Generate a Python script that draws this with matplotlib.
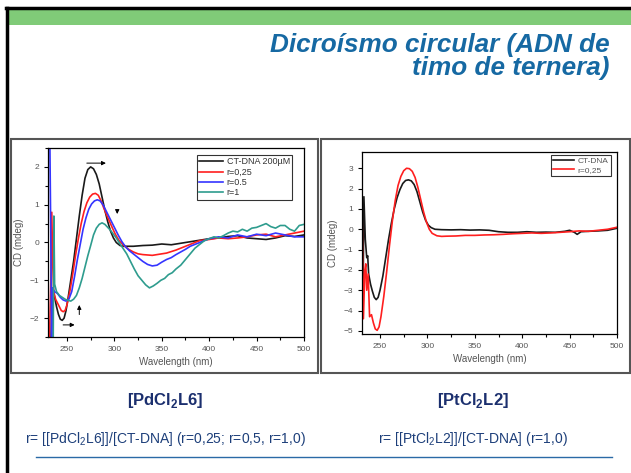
import matplotlib
matplotlib.use('Agg')
import matplotlib.pyplot as plt
from matplotlib.lines import Line2D
from matplotlib.patches import Rectangle

plt.rcParams['font.family'] = ['Liberation Sans', 'DejaVu Sans']
plt.rcParams['mathtext.fontset'] = 'custom'
plt.rcParams['mathtext.rm'] = 'Liberation Sans'
plt.rcParams['mathtext.bf'] = 'Liberation Sans:bold'

W, H = 631, 473

# ---- [PdCl2L6] panel data ----
pd_dna_wl = [233, 235, 237, 239, 241, 243, 245, 247, 249, 251, 254, 257, 260, 263, 266, 269, 272, 275,
             278, 281, 284, 287, 290, 293, 296, 299, 302, 306, 310, 320, 330, 340, 350, 360, 370, 380,
             390, 400, 410, 420, 430, 440, 450, 460, 470, 480, 490, 500]
pd_dna_cd = [-2.6, -1.2, -1.45, -1.7, -1.9, -2.03, -2.06, -2.0, -1.8, -1.5, -1.0, -0.5, 0.1, 0.7, 1.25, 1.7,
             1.93, 2.0, 1.95, 1.8, 1.55, 1.2, 0.85, 0.55, 0.3, 0.12, 0.0, -0.08, -0.1, -0.1, -0.08, -0.07,
             -0.04, -0.06, -0.02, 0.02, 0.06, 0.1, 0.12, 0.16, 0.18, 0.12, 0.1, 0.08, 0.12, 0.18, 0.16, 0.2]

pd_r025_wl = [231.5, 233, 234, 235, 236, 238, 240, 242, 244, 246, 248, 250, 253, 256, 259, 262, 265, 268,
              271, 274, 277, 280, 283, 286, 289, 292, 295, 298, 301, 305, 310, 315, 320, 325, 330, 335,
              340, 345, 350, 355, 360, 365, 370, 375, 380, 385, 390, 400, 410, 420, 430, 440, 450, 460,
              470, 480, 490, 500]
pd_r025_cd = [-2.6, -1.0, 0.8, -0.6, -1.3, -1.5, -1.6, -1.7, -1.8, -1.83, -1.8, -1.65, -1.3, -0.85, -0.35,
              0.1, 0.5, 0.82, 1.05, 1.2, 1.28, 1.3, 1.25, 1.1, 0.9, 0.72, 0.55, 0.38, 0.22, 0.05, -0.08,
              -0.18, -0.25, -0.3, -0.32, -0.33, -0.34, -0.32, -0.3, -0.28, -0.24, -0.2, -0.15, -0.1, -0.05,
              0.0, 0.05, 0.08, 0.12, 0.1, 0.12, 0.15, 0.2, 0.22, 0.15, 0.2, 0.25, 0.3]

pd_r05_wl = [232, 233, 233.8, 234.5, 237, 240, 243, 246, 249, 252, 255, 258, 261, 264, 267, 270, 273, 276,
             279, 282, 285, 288, 291, 294, 297, 300, 304, 308, 312, 316, 320, 325, 330, 335, 340, 345,
             350, 355, 360, 365, 370, 375, 380, 385, 390, 400, 410, 420, 430, 440, 450, 460, 470, 480,
             490, 500]
pd_r05_cd = [2.6, 0.0, -2.6, -1.2, -1.3, -1.35, -1.45, -1.52, -1.55, -1.5, -1.3, -0.9, -0.45, -0.05, 0.35,
             0.65, 0.88, 1.02, 1.1, 1.13, 1.1, 1.0, 0.85, 0.7, 0.55, 0.4, 0.2, 0.02, -0.12, -0.22, -0.3,
             -0.4, -0.5, -0.58, -0.62, -0.6, -0.52, -0.45, -0.4, -0.32, -0.25, -0.18, -0.1, -0.05, 0.0,
             0.1, 0.15, 0.12, 0.2, 0.15, 0.22, 0.18, 0.25, 0.2, 0.15, 0.15]

pd_r1_wl = [235.5, 236.2, 237, 239, 242, 245, 248, 251, 254, 257, 260, 263, 266, 269, 272, 275, 278, 281,
            284, 287, 290, 293, 296, 299, 302, 305, 309, 313, 317, 321, 325, 329, 333, 337, 341, 345,
            349, 353, 357, 361, 365, 370, 375, 380, 385, 390, 395, 400, 405, 410, 415, 420, 425, 430,
            435, 440, 445, 450, 455, 460, 465, 470, 475, 480, 485, 490, 495, 500]
pd_r1_cd = [-2.6, 0.7, -1.1, -1.3, -1.4, -1.45, -1.5, -1.53, -1.55, -1.5, -1.4, -1.2, -0.95, -0.65, -0.35,
            -0.08, 0.2, 0.38, 0.48, 0.52, 0.48, 0.4, 0.32, 0.22, 0.12, 0.0, -0.15, -0.3, -0.5, -0.7, -0.88,
            -1.0, -1.12, -1.2, -1.15, -1.08, -1.0, -0.95, -0.85, -0.8, -0.7, -0.6, -0.45, -0.3, -0.15,
            -0.05, 0.05, 0.1, 0.15, 0.12, 0.18, 0.25, 0.3, 0.28, 0.35, 0.3, 0.38, 0.4, 0.45, 0.5, 0.42,
            0.38, 0.45, 0.45, 0.35, 0.3, 0.45, 0.48]

# ---- [PtCl2L2] panel data ----
pt_dna_wl = [232, 233, 234.5, 236, 237, 238, 240, 242, 244, 246, 248, 250, 253, 256, 259, 262, 265, 268,
             271, 274, 277, 280, 283, 286, 289, 292, 295, 298, 301, 304, 308, 315, 325, 335, 345, 355,
             365, 375, 385, 395, 405, 415, 425, 435, 445, 450, 455, 458, 462, 470, 480, 490, 500]
pt_dna_cd = [-4.0, 1.6, -0.5, -1.4, -1.3, -2.2, -2.7, -3.05, -3.35, -3.46, -3.35, -3.0, -2.3, -1.4, -0.5,
             0.3, 1.0, 1.55, 1.95, 2.25, 2.4, 2.43, 2.38, 2.2, 1.85, 1.35, 0.85, 0.45, 0.2, 0.08, 0.0,
             -0.02, -0.03, -0.02, -0.04, -0.03, -0.05, -0.12, -0.15, -0.15, -0.12, -0.15, -0.14, -0.15,
             -0.1, -0.05, -0.15, -0.25, -0.12, -0.1, -0.08, -0.05, 0.05]

pt_r025_wl = [230.5, 231.5, 232.5, 234, 235, 236, 237.5, 239, 241, 243, 245, 247, 249, 251, 254, 257, 260,
              263, 266, 269, 272, 275, 278, 281, 284, 287, 290, 293, 296, 299, 302, 305, 310, 315, 320,
              330, 340, 350, 360, 370, 380, 390, 400, 410, 420, 430, 440, 450, 460, 470, 480, 490, 500]
pt_r025_cd = [3.8, -1.0, -4.4, -2.0, -1.7, -3.0, -2.2, -4.3, -4.2, -4.6, -4.9, -4.97, -4.8, -4.3, -3.3,
              -2.1, -0.8, 0.4, 1.4, 2.15, 2.6, 2.88, 3.0, 2.98, 2.85, 2.55, 2.05, 1.45, 0.85, 0.35, 0.0,
              -0.2, -0.32, -0.35, -0.34, -0.33, -0.3, -0.3, -0.28, -0.27, -0.25, -0.22, -0.2, -0.18, -0.2,
              -0.18, -0.15, -0.12, -0.08, -0.1, -0.05, 0.0, 0.1]

pd_labels = ['CT-DNA 200\u00b5M', 'r=0,25', 'r=0.5', 'r=1']
pt_labels = ['CT-DNA', 'r=0,25']
c_black, c_red, c_blue, c_teal = '#1a1a1a', '#ff1f1f', '#3535ff', '#2e9c8e'


def px_box(x0, y0, x1, y1):
    return [x0 / W, 1 - y1 / H, (x1 - x0) / W, (y1 - y0) / H]


fig = plt.figure(figsize=(W / 100, H / 100), dpi=100)

# slide decoration
fig.add_artist(Rectangle((8 / W, 1 - 25 / H), 1, 15 / H, transform=fig.transFigure,
                         facecolor='#80cb78', edgecolor='none'))
fig.add_artist(Line2D([7 / W, 7 / W], [0, 1 - 8 / H], transform=fig.transFigure, color='black', lw=2.5))
fig.add_artist(Line2D([6 / W, 1], [1 - 8 / H, 1 - 8 / H], transform=fig.transFigure, color='black', lw=2.5))

title_font = dict(fontsize=18.8, fontweight='bold', fontstyle='italic', color='#1669a3', ha='right',
                  va='baseline', family='Liberation Sans')
fig.text(610 / W, 1 - 52 / H, 'Dicro\u00edsmo circular (ADN de', **title_font)
fig.text(610 / W, 1 - 75 / H, 'timo de ternera)', **title_font)

# panel frames
for x0, x1 in [(11, 318), (321, 630)]:
    fig.add_artist(Rectangle((x0 / W, 1 - 373 / H), (x1 - x0) / W, 234 / H, transform=fig.transFigure,
                             facecolor='none', edgecolor='#555555', lw=1.5))


def style_axes(ax):
    ax.tick_params(labelsize=6, labelcolor='#555555', length=3, width=0.8, direction='out')
    ax.tick_params(which='minor', length=2, width=0.8)
    for s in ax.spines.values():
        s.set_linewidth(0.9)
    ax.set_xlabel('Wavelength (nm)', fontsize=7, color='#555555', labelpad=3)
    ax.set_ylabel('CD (mdeg)', fontsize=7, color='#555555', labelpad=4)


ax1 = fig.add_axes(px_box(48, 148, 304, 337))
ax1.plot(pd_dna_wl, pd_dna_cd, color=c_black, lw=1.2, label=pd_labels[0])
ax1.plot(pd_r025_wl, pd_r025_cd, color=c_red, lw=1.2, label=pd_labels[1])
ax1.plot(pd_r05_wl, pd_r05_cd, color=c_blue, lw=1.2, label=pd_labels[2])
ax1.plot(pd_r1_wl, pd_r1_cd, color=c_teal, lw=1.2, label=pd_labels[3])
ax1.set_xlim(230, 500)
ax1.set_ylim(-2.5, 2.5)
ax1.set_xticks([250, 300, 350, 400, 450, 500])
ax1.set_xticks([275, 325, 375, 425, 475], minor=True)
ax1.set_yticks([-2, -1, 0, 1, 2])
ax1.set_yticks([-2.5, -1.5, -0.5, 0.5, 1.5, 2.5], minor=True)
style_axes(ax1)
arrow = dict(arrowstyle='-|>', color='black', lw=0.7, mutation_scale=6)
ax1.annotate('', xy=(294, 2.1), xytext=(268, 2.1), arrowprops=arrow)
ax1.annotate('', xy=(303, 0.68), xytext=(303, 0.92), arrowprops=arrow)
ax1.annotate('', xy=(263, -1.58), xytext=(263, -1.98), arrowprops=arrow)
ax1.annotate('', xy=(261, -2.18), xytext=(243, -2.18), arrowprops=arrow)
leg1 = ax1.legend(loc='upper right', bbox_to_anchor=(0.955, 0.965), fontsize=6.5, frameon=True,
                  fancybox=False, edgecolor='black', handlelength=2.6, handletextpad=0.4,
                  labelspacing=0.15, borderpad=0.3, borderaxespad=0)
leg1.get_frame().set_linewidth(0.8)
for t in leg1.get_texts():
    t.set_color('#333333')

ax2 = fig.add_axes(px_box(362, 152, 617, 334))
ax2.plot(pt_dna_wl, pt_dna_cd, color=c_black, lw=1.2, label=pt_labels[0])
ax2.plot(pt_r025_wl, pt_r025_cd, color=c_red, lw=1.2, label=pt_labels[1])
ax2.set_xlim(231, 500)
ax2.set_ylim(-5.15, 3.8)
ax2.set_xticks([250, 300, 350, 400, 450, 500])
ax2.set_xticks([275, 325, 375, 425, 475], minor=True)
ax2.set_yticks([-5, -4, -3, -2, -1, 0, 1, 2, 3])
style_axes(ax2)
leg2 = ax2.legend(loc='upper right', bbox_to_anchor=(0.975, 0.985), fontsize=6, frameon=True,
                  fancybox=False, edgecolor='black', handlelength=2.6, handletextpad=0.4,
                  labelspacing=0.15, borderpad=0.25, borderaxespad=0)
leg2.get_frame().set_linewidth(0.8)
for t in leg2.get_texts():
    t.set_color('#555555')

# compound labels and ratio notes
lab_font = dict(fontsize=12, fontweight='bold', color='#1b2f6e', ha='center', va='baseline')
fig.text(165 / W, 1 - 405 / H, r'[PdCl$_{\mathbf{2}}$L6]', **lab_font)
fig.text(473 / W, 1 - 405 / H, r'[PtCl$_{\mathbf{2}}$L2]', **lab_font)
note_font = dict(fontsize=10, color='#1d3f7a', ha='left', va='baseline')
fig.text(25 / W, 1 - 443 / H, r'r= [[PdCl$_{\mathrm{2}}$L6]]/[CT-DNA] (r=0,25; r=0,5, r=1,0)', **note_font)
fig.text(378 / W, 1 - 443 / H, r'r= [[PtCl$_{\mathrm{2}}$L2]]/[CT-DNA] (r=1,0)', **note_font)
fig.add_artist(Line2D([36 / W, 612 / W], [1 - 457 / H, 1 - 457 / H], transform=fig.transFigure,
                      color='#2a6aa6', lw=1))

fig.savefig('out.png', dpi=100)
